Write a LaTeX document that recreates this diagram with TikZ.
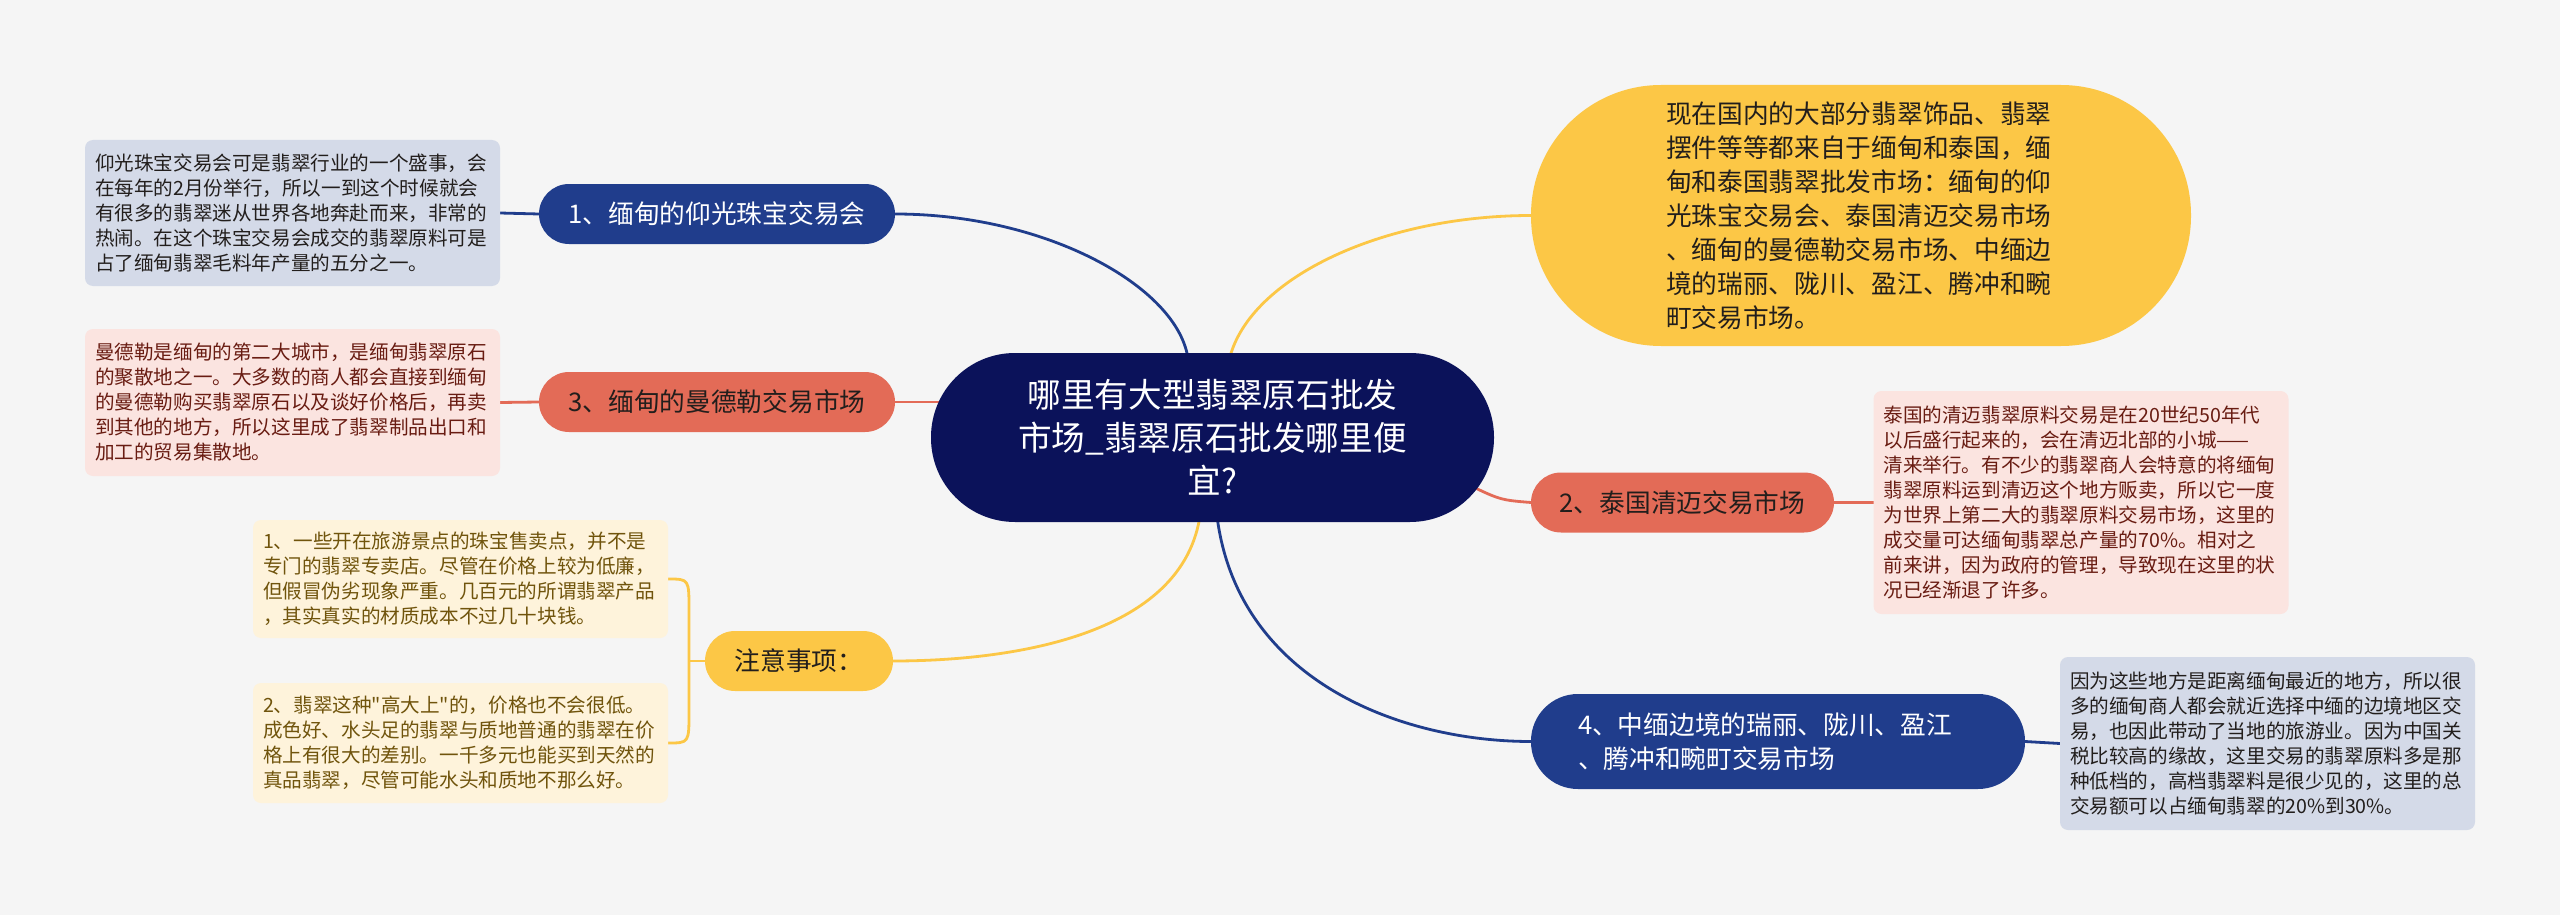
\documentclass[tikz,border=0pt]{standalone}
\usepackage{fontspec}
\setmainfont{Noto Sans CJK SC}
\setmonofont{Noto Sans CJK SC}
\usetikzlibrary{backgrounds,calc}
\definecolor{bgc}{RGB}{245,245,245}
\definecolor{navyc}{RGB}{11,18,90}
\definecolor{bluec}{RGB}{32,61,140}
\definecolor{redc}{RGB}{227,107,87}
\definecolor{yelc}{RGB}{252,199,70}
\definecolor{bluebox}{RGB}{212,218,232}
\definecolor{redbox}{RGB}{251,228,224}
\definecolor{yelbox}{RGB}{254,243,219}
\definecolor{redtxt}{RGB}{105,28,18}
\definecolor{yeltxt}{RGB}{112,84,12}
\definecolor{darktxt}{RGB}{34,30,28}
\newcommand\myfs[2]{\fontsize{#1}{#2}\selectfont}
\begin{document}
\begin{tikzpicture}[x=1pt,y=-1pt,
  every node/.style={inner sep=0pt, outer sep=0pt},
  topic/.style={fill=navyc, text=white, rounded corners=84pt, minimum width=563pt, minimum height=169pt, align=center, font=\myfs{33.6}{43}},
  branch/.style={rounded corners=30pt, minimum height=60pt, font=\myfs{25.7}{34}, align=center},
  detail/.style={rounded corners=8pt, text width=395pt, inner xsep=10pt, align=left, font=\myfs{19.6}{25}},
  link/.style={line width=2.8pt},
]
\useasboundingbox (0,0) rectangle (2560,915);
% central topic
\node[topic] (c) at (1212.5,437.5) {哪里有大型翡翠原石批发\\市场\_翡翠原石批发哪里便\\宜?};
% branches
\node[branch, fill=bluec, text=white, minimum width=356pt] (b1) at (717,214) {1、缅甸的仰光珠宝交易会};
\node[branch, fill=redc, text=darktxt, minimum width=356pt] (b3) at (717,402) {3、缅甸的曼德勒交易市场};
\node[branch, fill=yelc, text=darktxt, minimum width=188pt] (b5) at (799,661) {注意事项：};
\node[branch, fill=redc, text=darktxt, minimum width=303pt] (b2) at (1682.5,502.5) {2、泰国清迈交易市场};
\node[branch, fill=bluec, text=white, rounded corners=47pt, minimum height=95pt, text width=400pt, inner xsep=47pt, align=left] (b4) at (1778,741.5) {4、中缅边境的瑞丽、陇川、盈江\\、腾冲和畹町交易市场};
\node[fill=yelc, text=darktxt, rounded corners=130pt, minimum width=660pt, minimum height=261pt, text width=390pt, align=left, font=\myfs{25.7}{34}] (y1) at (1861,215.5) {现在国内的大部分翡翠饰品、翡翠\\摆件等等都来自于缅甸和泰国，缅\\甸和泰国翡翠批发市场：缅甸的仰\\光珠宝交易会、泰国清迈交易市场\\、缅甸的曼德勒交易市场、中缅边\\境的瑞丽、陇川、盈江、腾冲和畹\\町交易市场。};
% details
\node[detail, fill=bluebox, text=darktxt, minimum height=146pt] (d1) at (292.5,213) {仰光珠宝交易会可是翡翠行业的一个盛事，会\\在每年的2月份举行，所以一到这个时候就会\\有很多的翡翠迷从世界各地奔赴而来，非常的\\热闹。在这个珠宝交易会成交的翡翠原料可是\\占了缅甸翡翠毛料年产量的五分之一。};
\node[detail, fill=redbox, text=redtxt, minimum height=147pt] (d3) at (292.5,402.5) {曼德勒是缅甸的第二大城市，是缅甸翡翠原石\\的聚散地之一。大多数的商人都会直接到缅甸\\的曼德勒购买翡翠原石以及谈好价格后，再卖\\到其他的地方，所以这里成了翡翠制品出口和\\加工的贸易集散地。};
\node[detail, fill=yelbox, text=yeltxt, minimum height=118pt] (dA) at (460.5,579) {1、一些开在旅游景点的珠宝售卖点，并不是\\专门的翡翠专卖店。尽管在价格上较为低廉，\\但假冒伪劣现象严重。几百元的所谓翡翠产品\\，其实真实的材质成本不过几十块钱。};
\node[detail, fill=yelbox, text=yeltxt, minimum height=120pt] (dB) at (460.5,743) {2、翡翠这种{\ttfamily"}高大上{\ttfamily"}的，价格也不会很低。\\成色好、水头足的翡翠与质地普通的翡翠在价\\格上有很大的差别。一千多元也能买到天然的\\真品翡翠，尽管可能水头和质地不那么好。};
\node[detail, fill=redbox, text=redtxt, minimum height=223pt] (d2) at (2081,502.5) {泰国的清迈翡翠原料交易是在20世纪50年代\\以后盛行起来的，会在清迈北部的小城——\\清来举行。有不少的翡翠商人会特意的将缅甸\\翡翠原料运到清迈这个地方贩卖，所以它一度\\为世界上第二大的翡翠原料交易市场，这里的\\成交量可达缅甸翡翠总产量的70\%。相对之\\前来讲，因为政府的管理，导致现在这里的状\\况已经渐退了许多。};
\node[detail, fill=bluebox, text=darktxt, minimum height=173pt] (d4) at (2267.5,743.5) {因为这些地方是距离缅甸最近的地方，所以很\\多的缅甸商人都会就近选择中缅的边境地区交\\易，也因此带动了当地的旅游业。因为中国关\\税比较高的缘故，这里交易的翡翠原料多是那\\种低档的，高档翡翠料是很少见的，这里的总\\交易额可以占缅甸翡翠的20\%到30\%。};
\coordinate (br) at (689,661);
% connectors
\begin{scope}[on background layer]
\fill[bgc] (0,0) rectangle (2560,915);
\draw[link, bluec] ($(c.north)+(-24,10)$) .. controls (1183,290) and (1050,214) .. (b1.east);
\draw[link, yelc] ($(c.north)+(16,10)$) .. controls (1245,280) and (1380,215.5) .. (y1.west);
\draw[link, redc] (b3.east) -- ($(b3.east)+(80,0)$);
\draw[link, redc] ($(c.east)+(-30,45)$) .. controls (1500,500) .. (b2.west);
\draw[link, bluec] ($(c.south)+(4,-10)$) .. controls (1235,680) and (1400,741.5) .. (b4.west);
\draw[link, yelc] ($(c.south)+(-12,-10)$) .. controls (1185,640) and (1000,661) .. (b5.east);
\draw[link, bluec] (d1.east) -- (b1.west);
\draw[link, redc] (d3.east) -- (b3.west);
\draw[link, redc] (b2.east) -- (d2.west);
\draw[link, bluec] (b4.east) -- (d4.west);
\draw[link, yelc] (b5.west) -- (br);
\draw[link, yelc] (dA.east) .. controls (689,579) .. (689,610) -- (689,712) .. controls (689,743) .. (dB.east);
\end{scope}
\end{tikzpicture}
\end{document}
